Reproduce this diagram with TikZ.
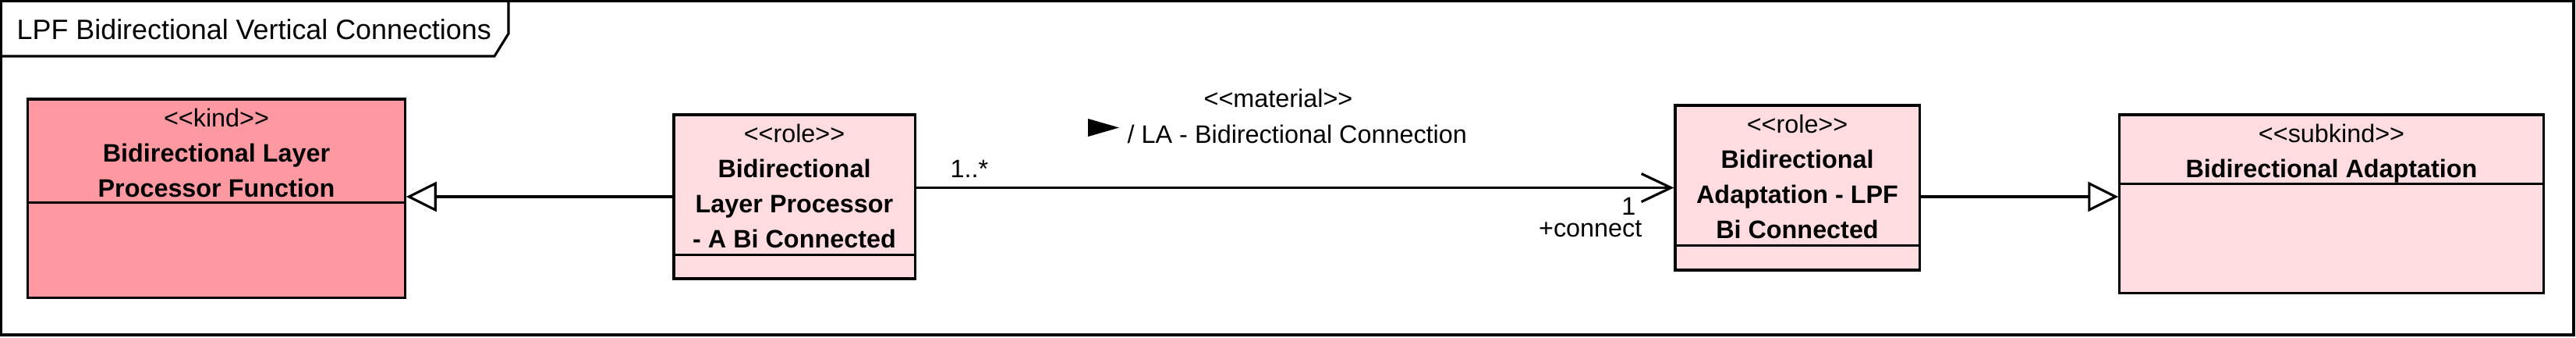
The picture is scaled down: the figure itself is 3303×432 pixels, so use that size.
\documentclass[tikz,border=0pt]{standalone}
\usepackage{fontspec}
\setmainfont{Liberation Sans}
\usetikzlibrary{arrows.meta,positioning,calc}
\definecolor{kindpink}{RGB}{255,153,161}
\definecolor{rolepink}{RGB}{255,220,224}

\begin{document}
\begin{tikzpicture}[x=0.01cm, y=-0.01cm,
    cls/.style={draw, line width=0.9pt, inner sep=0pt},
    txt/.style={font=\fontsize{9.2}{12.8}\selectfont, align=center, inner sep=0pt, anchor=base},
    lbl/.style={font=\fontsize{9.2}{12.8}\selectfont, inner sep=0pt},
    frm/.style={line width=0.9pt},
    gen/.style={-{Triangle[open, length=0.39cm, width=0.38cm]}, line width=0.9pt},
    assoc/.style={-{Straight Barb[length=0.38cm, width=0.36cm]}, line width=0.9pt}
]
\useasboundingbox (0,0) rectangle (3303,432);
\fill[white] (0,0) rectangle (3303,432);

% frame and title tab
\draw[frm] (1,1) rectangle (3300,429);
\draw[frm] (1,72) -- (634,72) -- (652,43) -- (652,1);
\node[lbl, font=\fontsize{10.2}{12}\selectfont, anchor=base west] (ttl) at (21,50) {LPF Bidirectional Vertical Connections};

% classes (text anchored at the baseline of its last line)
\node[cls, fill=kindpink, minimum width=4.83cm, minimum height=2.54cm] (kind) at (277.5,254) {};
\node[txt] (kindtxt) at ([yshift=-1.27cm]kind.north) {<{}<kind>{}>\\\textbf{Bidirectional Layer}\\\textbf{Processor Function}};
\draw[frm] ([yshift=-1.34cm]kind.north west) -- ([yshift=-1.34cm]kind.north east);

\node[cls, fill=rolepink, minimum width=3.09cm, minimum height=2.10cm] (role1) at (1018.5,252) {};
\node[txt] (role1txt) at ([yshift=-1.72cm]role1.north) {<{}<role>{}>\\\textbf{Bidirectional}\\\textbf{Layer Processor}\\\textbf{- A Bi Connected}};
\draw[frm] ([yshift=-1.81cm]role1.north west) -- ([yshift=-1.81cm]role1.north east);

\node[cls, fill=rolepink, minimum width=3.13cm, minimum height=2.11cm] (role3) at (2304.5,240.5) {};
\node[txt] (role3txt) at ([yshift=-1.72cm]role3.north) {<{}<role>{}>\\\textbf{Bidirectional}\\\textbf{Adaptation - LPF}\\\textbf{Bi Connected}};
\draw[frm] ([yshift=-1.81cm]role3.north west) -- ([yshift=-1.81cm]role3.north east);

\node[cls, fill=rolepink, minimum width=5.43cm, minimum height=2.28cm] (sub) at (2989.5,261) {};
\node[txt] (subtxt) at ([yshift=-0.82cm]sub.north) {<{}<subkind>{}>\\\textbf{Bidirectional Adaptation}};
\draw[frm] ([yshift=-0.90cm]sub.north west) -- ([yshift=-0.90cm]sub.north east);

% connectors
\draw[gen] (role1.west) -- (role1.west -| kind.east);
\draw[assoc] (role3.west -| role1.east) -- (role3.west);
\draw[gen] ([yshift=-0.115cm]role3.east) -- ([yshift=-0.115cm]role3.east -| sub.west);

% association labels
\node[lbl, anchor=base] (stereo) at (1639,137) {<{}<material>{}>};
\fill (1395,152) -- (1435,163.5) -- (1395,175) -- cycle;
\node[lbl, anchor=base west] (aname) at (1445,183) {/ LA - Bidirectional Connection};
\node[lbl, anchor=base west] (mulsrc) at (1218,227) {1..*};
\node[lbl, anchor=base east] (multgt) at (2098,275) {1};
\node[lbl, anchor=base east] (rolegt) at (2106,303) {+connect};
\end{tikzpicture}
\end{document}
